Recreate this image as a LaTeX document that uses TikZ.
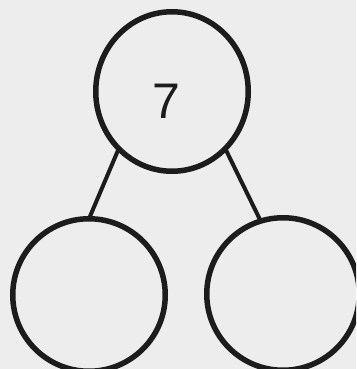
\documentclass[tikz,border=0pt]{standalone}
\usepackage{fontspec}
\setmainfont{Liberation Sans}
\usetikzlibrary{shapes.geometric}
\definecolor{paper}{HTML}{EDEDED}
\definecolor{ink}{HTML}{1C1C1C}
\begin{document}
\begin{tikzpicture}[x=1pt,y=-1pt,
  bubble/.style={circle,draw=ink,line width=5.5pt,minimum size=152.5pt,inner sep=0pt,outer sep=0pt},
  topbubble/.style={ellipse,draw=ink,line width=5.5pt,minimum width=152.5pt,minimum height=159.5pt,inner sep=0pt,outer sep=0pt},
  link/.style={draw=ink,line width=4pt}]
\useasboundingbox (0,0) rectangle (356,369);
\fill[paper] (0,0) rectangle (356,369);
\clip (0,0) rectangle (356,369);
\node[topbubble] (top) at (172,91.5) {};
\node[font=\fontsize{50}{50}\selectfont, text=ink] (seven) at (166,101) {7};
\node[bubble] (left) at (89,295) {};
\node[bubble] (right) at (283,294) {};
\draw[link] (top.-133) -- (left.90);
\draw[link] (top.-47) -- (right.107);
\end{tikzpicture}
\end{document}
